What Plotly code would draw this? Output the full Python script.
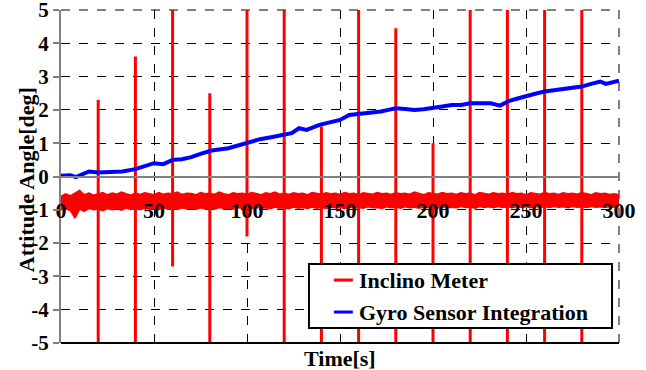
import plotly.graph_objects as go

# ---- data ----
gyro_time = [0, 5, 8, 12, 15, 20, 27, 33, 40, 45, 50, 55, 60, 65, 70, 75, 81, 90, 96, 100,
             107, 113, 120, 124, 128, 132, 139, 145, 150, 155, 161, 166, 172, 176, 180, 185,
             190, 195, 200, 205, 210, 215, 220, 225, 231, 236, 241, 246, 252, 256, 260, 265,
             270, 275, 280, 285, 290, 293, 296, 300]
gyro_value = [0.02, 0.04, -0.02, 0.08, 0.15, 0.12, 0.12, 0.15, 0.22, 0.30, 0.40, 0.37, 0.50,
              0.52, 0.58, 0.68, 0.78, 0.85, 0.95, 1.02, 1.12, 1.18, 1.25, 1.30, 1.45, 1.40,
              1.55, 1.62, 1.70, 1.85, 1.88, 1.90, 1.95, 2.00, 2.05, 2.03, 2.00, 2.02, 2.05,
              2.10, 2.15, 2.15, 2.20, 2.20, 2.20, 2.13, 2.27, 2.35, 2.45, 2.50, 2.55, 2.58,
              2.62, 2.65, 2.70, 2.78, 2.85, 2.78, 2.82, 2.88]

# inclinometer noise band (upper / lower envelope every 2.5 s)
band_time = [i * 2.5 for i in range(121)]
band_upper = [-0.60, -0.52, -0.58, -0.50, -0.42, -0.55, -0.50, -0.56, -0.52, -0.48, -0.55, -0.50,
              -0.53, -0.47, -0.52, -0.56, -0.50, -0.54, -0.49, -0.52, -0.55, -0.48, -0.53, -0.50,
              -0.52, -0.47, -0.54, -0.50, -0.51, -0.55, -0.48, -0.52, -0.50, -0.54, -0.47, -0.52,
              -0.55, -0.49, -0.52, -0.50, -0.53, -0.48, -0.51, -0.55, -0.49, -0.52, -0.47, -0.53,
              -0.50, -0.54, -0.49, -0.52, -0.50, -0.55, -0.48, -0.51, -0.53, -0.49, -0.52, -0.50,
              -0.54, -0.48, -0.52, -0.50, -0.55, -0.49, -0.51, -0.53, -0.48, -0.52, -0.50, -0.54,
              -0.49, -0.52, -0.50, -0.53, -0.47, -0.52, -0.55, -0.49, -0.51, -0.53, -0.48, -0.52,
              -0.50, -0.54, -0.49, -0.52, -0.50, -0.55, -0.48, -0.51, -0.53, -0.49, -0.52, -0.50,
              -0.54, -0.48, -0.52, -0.50, -0.55, -0.49, -0.51, -0.53, -0.48, -0.52, -0.50, -0.54,
              -0.49, -0.52, -0.50, -0.53, -0.48, -0.51, -0.55, -0.49, -0.52, -0.50, -0.54, -0.52,
              -0.55]
band_lower = [-1.00, -0.97, -1.02, -1.25, -0.98, -1.05, -0.96, -1.00, -0.98, -1.03, -0.96, -1.00,
              -0.97, -1.01, -0.95, -0.99, -0.96, -1.00, -0.95, -0.98, -0.96, -1.00, -0.94, -0.98,
              -0.96, -0.99, -0.94, -0.97, -0.95, -0.99, -0.94, -0.97, -0.95, -0.98, -0.93, -0.96,
              -0.95, -0.98, -0.93, -0.96, -0.94, -0.97, -0.93, -0.95, -0.94, -0.97, -0.92, -0.95,
              -0.94, -0.97, -0.92, -0.95, -0.93, -0.96, -0.92, -0.95, -0.93, -0.96, -0.92, -0.94,
              -0.93, -0.96, -0.92, -0.94, -0.93, -0.95, -0.91, -0.94, -0.93, -0.96, -0.91, -0.94,
              -0.92, -0.95, -0.91, -0.94, -0.92, -0.95, -0.91, -0.93, -0.92, -0.95, -0.91, -0.93,
              -0.92, -0.94, -0.90, -0.93, -0.92, -0.95, -0.90, -0.93, -0.91, -0.94, -0.90, -0.93,
              -0.91, -0.94, -0.90, -0.92, -0.91, -0.94, -0.90, -0.92, -0.91, -0.93, -0.90, -0.92,
              -0.91, -0.94, -0.90, -0.92, -0.91, -0.93, -0.90, -0.92, -0.91, -0.93, -0.90, -0.92,
              -0.91]

spike_time = [20, 40, 60, 80, 100, 120, 140, 160, 180, 200, 220, 240, 260, 280]
spike_top = [2.3, 3.6, 5.0, 2.5, 5.0, 5.0, 1.5, 5.0, 4.45, 1.0, 5.0, 5.0, 5.0, 5.0]
spike_bottom = [-5.0, -5.0, -2.7, -5.0, -1.8, -5.0, -5.0, -5.0, -5.0, -5.0, -5.0, -5.0, -5.0, -5.0]

x_ticks = [0, 50, 100, 150, 200, 250, 300]
y_ticks = [-5, -4, -3, -2, -1, 0, 1, 2, 3, 4, 5]

series_names = ["Inclino Meter", "Gyro Sensor Integration"]

FONT = "Liberation Serif, Times New Roman, Times, serif"
RED = "#ff0000"
BLUE = "#0000ff"

spike_x, spike_y = [], []
for t, top, bot in zip(spike_time, spike_top, spike_bottom):
    spike_x += [t, t, None]
    spike_y += [bot, top, None]

fig = go.Figure()
fig.add_trace(go.Scatter(x=band_time, y=band_upper, mode="lines",
                         line=dict(color=RED, width=1.5), showlegend=False, hoverinfo="skip"))
fig.add_trace(go.Scatter(x=band_time, y=band_lower, mode="lines", fill="tonexty",
                         fillcolor=RED, line=dict(color=RED, width=1.5),
                         showlegend=False, hoverinfo="skip"))
fig.add_trace(go.Scatter(x=spike_x, y=spike_y, mode="lines", name=series_names[0],
                         line=dict(color=RED, width=3), showlegend=False))
fig.add_trace(go.Scatter(x=gyro_time, y=gyro_value, mode="lines",
                         name=series_names[1], showlegend=False,
                         line=dict(color=BLUE, width=4)))

# frame + manual legend (box, line samples, labels) in paper coordinates
leg_x0, leg_x1, leg_y0, leg_y1 = 0.4444, 0.9875, 0.045, 0.2372
row_y = [0.189, 0.093]
shapes = [
    dict(type="line", xref="paper", yref="paper", x0=0, x1=1, y0=0, y1=0,
         line=dict(color="black", width=2)),
    dict(type="line", xref="paper", yref="paper", x0=0, x1=1, y0=1, y1=1,
         line=dict(color="black", width=1, dash="dash"), layer="below"),
    dict(type="line", xref="paper", yref="paper", x0=1, x1=1, y0=0, y1=1,
         line=dict(color="black", width=1, dash="dash"), layer="below"),
    dict(type="rect", xref="paper", yref="paper", x0=leg_x0, x1=leg_x1, y0=leg_y0, y1=leg_y1,
         fillcolor="white", line=dict(color="black", width=2), layer="above"),
]
annotations = []
for name, color, yy in zip(series_names, [RED, BLUE], row_y):
    shapes.append(dict(type="line", xref="paper", yref="paper", x0=0.489, x1=0.523,
                       y0=yy, y1=yy, line=dict(color=color, width=3), layer="above"))
    annotations.append(dict(text="<b>" + name + "</b>", xref="paper", yref="paper",
                            x=0.531, y=yy, xanchor="left", yanchor="middle",
                            showarrow=False, font=dict(family=FONT, size=22, color="black")))

annotations += [
    dict(text="<b>Time[s]</b>", xref="paper", yref="paper", x=0.5, y=0,
         xanchor="center", yanchor="top", yshift=-1, showarrow=False,
         font=dict(family=FONT, size=22, color="black")),
    dict(text="<b>Attitude Angle[deg]</b>", xref="paper", yref="paper",
         x=-0.062, y=0.49, xanchor="center", yanchor="middle", textangle=-90,
         showarrow=False, font=dict(family=FONT, size=22, color="black")),
]

fig.update_layout(
    width=646, height=370,
    margin=dict(l=61, r=27, t=10, b=27, autoexpand=False),
    paper_bgcolor="white", plot_bgcolor="white",
    font=dict(family=FONT, size=22, color="black"),
    showlegend=False,
    xaxis=dict(range=[0, 300], tickvals=x_ticks, ticktext=[str(v) for v in x_ticks],
               showgrid=True, gridcolor="black", griddash="dash", gridwidth=1,
               anchor="free", position=0.5, showline=True, linecolor="#808080",
               linewidth=2, ticks="", ticklabelstandoff=14, automargin=False,
               ticklabeloverflow="allow",
               tickfont=dict(family=FONT, size=22, color="black", weight="bold"),
               zeroline=False),
    yaxis=dict(range=[-5, 5], tickvals=y_ticks, ticktext=[str(v) for v in y_ticks],
               showgrid=True, gridcolor="black", griddash="dash", gridwidth=1,
               showline=True, linecolor="#808080", linewidth=2, automargin=False,
               ticklabeloverflow="allow",
               ticks="outside", ticklen=6, tickcolor="#808080", tickwidth=1.5,
               tickfont=dict(family=FONT, size=21, color="black", weight="bold"),
               zeroline=False),
    shapes=shapes,
    annotations=annotations,
)

fig.write_html("out.html", config={"displayModeBar": False},
               post_script="document.body.style.margin='0px';")
